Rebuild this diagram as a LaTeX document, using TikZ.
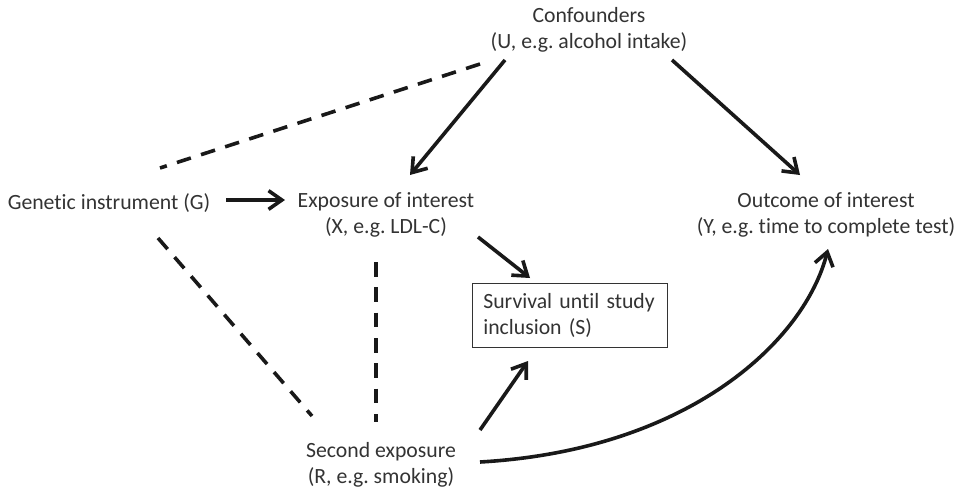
\documentclass[tikz,border=0pt]{standalone}
\usepackage{fontspec}
\setmainfont{Carlito}[Ligatures={NoCommon}]
\usetikzlibrary{arrows.meta}
\frenchspacing
\begin{document}
\begin{tikzpicture}[x=0.75pt,y=-0.75pt,
  lbl/.style={font=\fontsize{16.3}{19.5}\selectfont, text=black!80, align=center, inner sep=0pt},
  arr/.style={line width=2.7pt, black!90, -{Straight Barb[length=10pt,width=14pt,line width=2.7pt]}},
  dsh/.style={line width=2.7pt, black!90, dash pattern=on 11pt off 8pt}]
\useasboundingbox (0,0) rectangle (962,493);
\node[lbl] (U) at (589,30) {Confounders\\(U, e.g. alcohol intake)};
\node[lbl] (G) at (109,203) {Genetic instrument (G)};
\node[lbl] (X) at (386,215) {Exposure of interest\\(X, e.g. LDL-C)};
\node[lbl] (Y) at (826,215) {Outcome of interest\\(Y, e.g. time to complete test)};
\node[lbl, draw=black!80, line width=0.8pt, align=left, inner xsep=8.2pt, inner ysep=0pt, text width=130pt, minimum height=48.5pt] (S) at (570,315.5) {Survival until study\\inclusion (S)};
\node[lbl] (R) at (381,465) {Second exposure\\(R, e.g. smoking)};
\coordinate (ga) at (226,200); \coordinate (gb) at (285,200);
\draw[arr] (ga) -- (gb);
\coordinate (ua) at (505,60); \coordinate (ub) at (410,175);
\draw[arr] (ua) -- (ub);
\coordinate (uc) at (672,60); \coordinate (uy) at (800,175);
\draw[arr] (uc) -- (uy);
\coordinate (xa) at (478,237); \coordinate (xs) at (530,278);
\draw[arr] (xa) -- (xs);
\coordinate (ra) at (480,430); \coordinate (rs) at (528,361);
\draw[arr] (ra) -- (rs);
\coordinate (rb) at (480,462); \coordinate (ry) at (828,249);
\draw[arr] (rb) .. controls (690,450) and (805,340) .. (ry);
\coordinate (d1a) at (480,64); \coordinate (d1b) at (160,168);
\draw[dsh] (d1a) -- (d1b);
\coordinate (d2a) at (158,238); \coordinate (d2b) at (312,416);
\draw[dsh] (d2a) -- (d2b);
\coordinate (d3a) at (376,262); \coordinate (d3b) at (376,422);
\draw[dsh] (d3a) -- (d3b);
\end{tikzpicture}
\end{document}
